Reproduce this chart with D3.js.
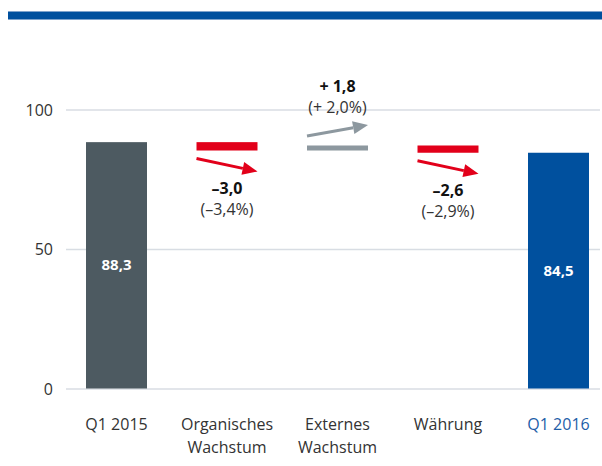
<!DOCTYPE html>
<html>
<head>
<meta charset="utf-8">
<script src="https://cdn.jsdelivr.net/npm/d3@7"></script>
<style>
  body { margin: 0; background: #fff; }
  svg { display: block; }
  svg text { font-family: "Open Sans", "Noto Sans", sans-serif; }
</style>
</head>
<body>
<div class="canvas"></div>
<script>
// data
const categories = ['Q1 2015', 'Organisches Wachstum', 'Externes Wachstum', 'Währung', 'Q1 2016'];
const values = [88.3, -3.0, 1.8, -2.6, 84.5];
const valueLabels = ['88,3', '–3,0', '+ 1,8', '–2,6', '84,5'];
const pctLabels = ['', '(–3,4%)', '(+ 2,0%)', '(–2,9%)', ''];
const yTicks = [0, 50, 100];

const width = 602, height = 466;

const svg = d3.select('.canvas').append('svg')
    .attr('width', width)
    .attr('height', height);

// top band
svg.append('rect').attr('x', 8).attr('y', 11).attr('width', 594).attr('height', 9).attr('fill', '#00509e');
svg.append('rect').attr('x', 8).attr('y', 11).attr('width', 594).attr('height', 1).attr('fill', '#7fa3cc');
svg.append('rect').attr('x', 8).attr('y', 19).attr('width', 594).attr('height', 1).attr('fill', '#7fa3cc');

// scales
const x = d3.scaleBand().domain(categories).range([61.25, 613.75]).paddingInner(0.448).paddingOuter(0.224);
const y = d3.scaleLinear().domain([0, 100]).range([388.5, 109.5]);

// gridlines + y labels
const yAxisGroup = svg.append('g')
    .attr('class', 'y-axis')
    .attr('transform', 'translate(66,0)')
    .call(d3.axisLeft(y).tickValues(yTicks).tickSize(-534).tickPadding(13));
yAxisGroup.select('.domain').remove();
yAxisGroup.selectAll('line').attr('stroke', '#d8dde3').attr('stroke-width', 1.5);
yAxisGroup.selectAll('text').attr('font-size', 16).attr('fill', '#333').attr('dy', '0.36em');

// waterfall positions
let running = 0;
const steps = values.map((v, i) => {
    let start, end;
    if (i === 0 || i === values.length - 1) { start = 0; end = v; running = v; }
    else { start = running; end = running + v; running = end; }
    return { cat: categories[i], v, start, end, total: i === 0 || i === values.length - 1 };
});

const barColor = (d, i) => d.total ? (i === 0 ? '#4d5a61' : '#00509e') : (d.v < 0 ? '#e2001a' : '#8d989f');

svg.append('g').selectAll('rect')
    .data(steps)
    .enter().append('rect')
    .attr('x', d => x(d.cat))
    .attr('width', x.bandwidth())
    .attr('y', d => y(Math.max(d.start, d.end)))
    .attr('height', d => Math.abs(y(d.start) - y(d.end)))
    .attr('fill', barColor);

// total labels
svg.append('g').selectAll('text')
    .data(steps.filter(d => d.total))
    .enter().append('text')
    .attr('x', d => x(d.cat) + x.bandwidth() / 2)
    .attr('y', d => (y(d.end) + y(0)) / 2 + 5)
    .attr('text-anchor', 'middle')
    .attr('fill', '#fff')
    .attr('font-size', 15)
    .attr('font-weight', 'bold')
    .text(d => valueLabels[steps.indexOf(d)]);

// arrows for deltas
const deltas = steps.filter(d => !d.total);
const arrowG = svg.append('g');
deltas.forEach(d => {
    const x0 = x(d.cat), x1 = x(d.cat) + x.bandwidth();
    const down = d.v < 0;
    const color = down ? '#e2001a' : '#8d989f';
    const yA = down ? y(Math.min(d.start, d.end)) + 8 : y(Math.max(d.start, d.end)) - 9.5;
    const yB = down ? yA + 13 : yA - 11;
    const ang = Math.atan2(yB - yA, x1 - x0);
    const headLen = 15, headW = 6.5;
    const bx = x1 - headLen * Math.cos(ang), by = yB - headLen * Math.sin(ang);
    arrowG.append('line')
        .attr('x1', x0).attr('y1', yA)
        .attr('x2', bx).attr('y2', by)
        .attr('stroke', color).attr('stroke-width', 3);
    const px = -Math.sin(ang) * headW, py = Math.cos(ang) * headW;
    arrowG.append('path')
        .attr('d', `M${x1},${yB}L${bx + px},${by + py}L${bx - px},${by - py}Z`)
        .attr('fill', color);

    const i = steps.indexOf(d);
    const cx = (x0 + x1) / 2;
    const ty = down ? yB + 22 : yB - 33;
    arrowG.append('text')
        .attr('x', cx).attr('y', ty)
        .attr('text-anchor', 'middle')
        .attr('font-size', 16).attr('font-weight', 'bold').attr('fill', '#111')
        .text(valueLabels[i]);
    arrowG.append('text')
        .attr('x', cx).attr('y', ty + 21)
        .attr('text-anchor', 'middle')
        .attr('font-size', 16).attr('fill', '#333')
        .text(pctLabels[i]);
});

// x axis labels
const xAxisGroup = svg.append('g')
    .attr('class', 'x-axis')
    .attr('transform', 'translate(0,' + 388.5 + ')')
    .call(d3.axisBottom(x).tickSize(0).tickPadding(0));
xAxisGroup.select('.domain').remove();
xAxisGroup.selectAll('text')
    .attr('dy', null)
    .attr('y', 41)
    .attr('font-size', 16)
    .each(function(d) {
        const t = d3.select(this);
        const words = d.startsWith('Q1') ? [d] : d.split(' ');
        t.text(null);
        words.forEach((w, k) => {
            t.append('tspan').attr('x', 0).attr('dy', k === 0 ? 0 : 23).text(w);
        });
    })
    .attr('fill', d => d === 'Q1 2016' ? '#1d5ea8' : '#333');
</script>
</body>
</html>
